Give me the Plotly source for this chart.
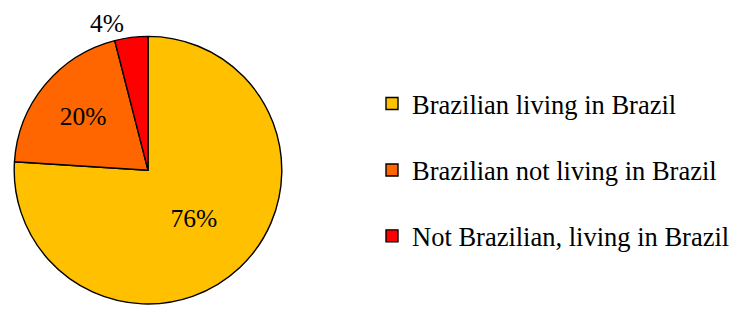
import plotly.graph_objects as go

labels = ["Brazilian living in Brazil", "Brazilian not living in Brazil", "Not Brazilian, living in Brazil"]
values = [76, 20, 4]
colors = ["#FFC000", "#FF6600", "#FF0000"]
text_positions = ["inside", "inside", "outside"]

W, H = 738, 309
FONT = "Liberation Serif, Times New Roman, serif"

fig = go.Figure()
fig.add_trace(go.Pie(
    labels=labels, values=values, sort=False, direction="clockwise", rotation=0,
    marker=dict(colors=colors, line=dict(color="black", width=1.4)),
    texttemplate="%{percent:.0%}", textposition=text_positions,
    insidetextorientation="horizontal",
    textfont=dict(family=FONT, size=25.5, color="black"),
    domain=dict(x=[11 / W, 285 / W], y=[0, 1 - 37 / H]),
    showlegend=False, hoverinfo="label+percent",
))

legend_y = [105.5, 173, 240]
for i, (lab, col) in enumerate(zip(labels, colors)):
    lname = "legend" if i == 0 else f"legend{i+1}"
    fig.add_trace(go.Scatter(
        x=[None], y=[None], mode="markers", name=lab,
        marker=dict(symbol="square", size=12, color=col, line=dict(color="black", width=1.4)),
        legend=lname, showlegend=True,
    ))
    fig.layout[lname] = dict(
        x=372 / W, xanchor="left", y=1 - legend_y[i] / H, yanchor="middle",
        font=dict(family=FONT, size=26.5, color="black"), bgcolor="rgba(0,0,0,0)",
    )

fig.update_layout(
    width=W, height=H, margin=dict(l=0, r=0, t=0, b=0),
    paper_bgcolor="white", plot_bgcolor="white",
    xaxis=dict(visible=False), yaxis=dict(visible=False),
)
fig.write_html("out.html", config={"displayModeBar": False},
               post_script="document.body.style.margin='0px';")
